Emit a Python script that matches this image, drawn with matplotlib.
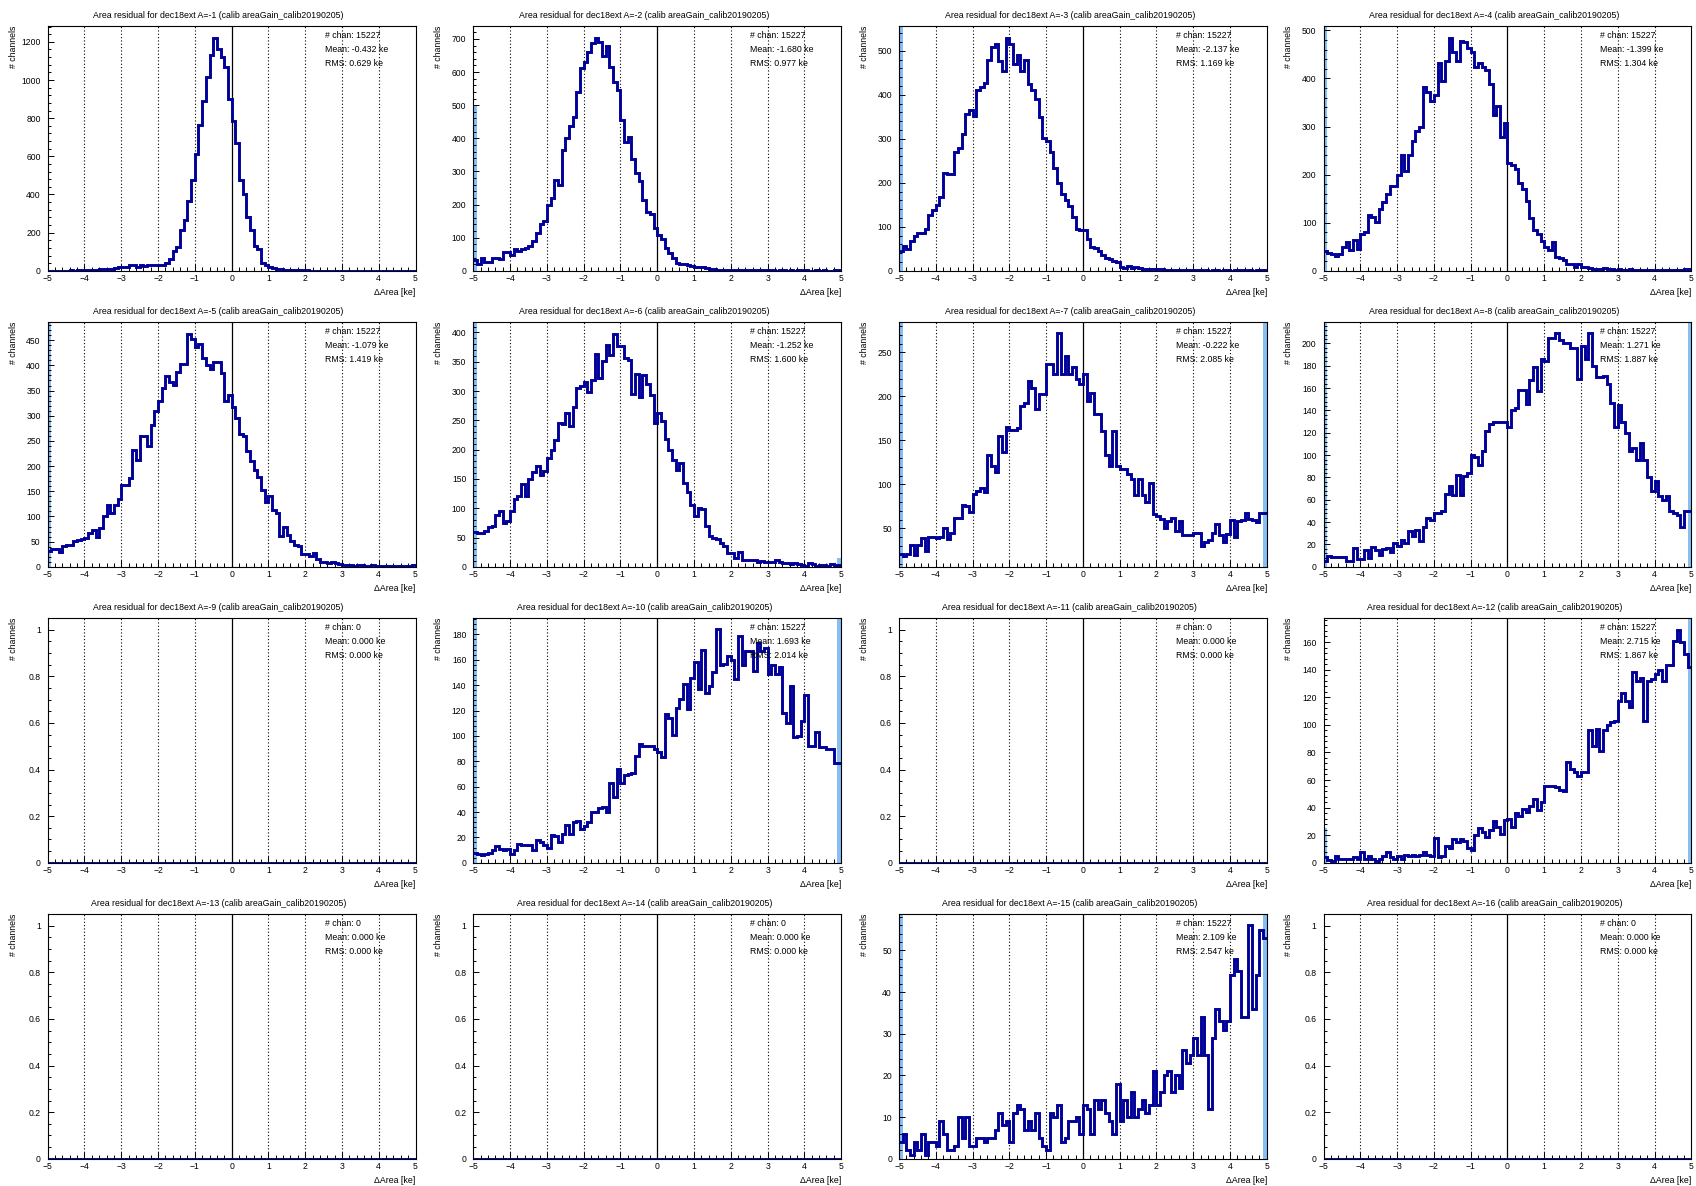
import matplotlib
matplotlib.use("Agg")
import numpy as np
import matplotlib.pyplot as plt
from matplotlib.ticker import MultipleLocator, AutoMinorLocator, FuncFormatter

plt.rcParams['font.family'] = ['Liberation Sans', 'DejaVu Sans']

# --- binning: 100 bins of 0.1 ke between -5 and 5 ---
X_LO, X_HI, NBINS = -5.0, 5.0, 100

# bin contents, 10 bins (= 1 ke) per row
counts_a1 = [
    1, 0, 1, 0, 1, 1, 2, 1, 2, 2,
    2, 3, 4, 5, 8, 10, 12, 8, 15, 22,
    20, 18, 33, 33, 22, 28, 25, 30, 32, 30,
    28, 30, 42, 62, 105, 125, 215, 268, 365, 478,
    610, 765, 890, 1015, 1130, 1222, 1160, 1118, 1068, 900,
    785, 668, 478, 405, 280, 212, 130, 112, 40, 28,
    20, 14, 10, 7, 6, 4, 3, 3, 2, 2,
    2, 1, 1, 1, 1, 1, 0, 1, 0, 1,
    0, 1, 0, 0, 1, 0, 0, 0, 0, 1,
    0, 0, 1, 0, 0, 0, 0, 0, 0, 1,
]
counts_a2 = [
    32, 22, 40, 28, 28, 38, 38, 35, 57, 57,
    47, 65, 60, 65, 68, 75, 90, 115, 140, 150,
    200, 220, 275, 258, 365, 400, 437, 465, 540, 612,
    630, 662, 687, 704, 690, 650, 680, 615, 570, 545,
    455, 388, 405, 338, 295, 270, 215, 178, 172, 130,
    108, 95, 70, 55, 38, 25, 22, 20, 18, 13,
    12, 12, 10, 8, 5, 4, 3, 3, 2, 2,
    2, 2, 1, 2, 1, 1, 1, 1, 1, 1,
    1, 1, 0, 1, 1, 0, 1, 0, 1, 0,
    1, 0, 0, 1, 0, 1, 0, 0, 1, 1,
]
counts_a3 = [
    45, 56, 50, 68, 80, 86, 86, 94, 127, 139,
    149, 168, 223, 220, 221, 270, 280, 312, 356, 365,
    351, 412, 417, 427, 480, 509, 515, 477, 455, 530,
    515, 470, 490, 455, 480, 425, 410, 390, 350, 302,
    295, 270, 233, 200, 175, 162, 147, 123, 95, 92,
    92, 72, 54, 52, 46, 35, 30, 26, 22, 20,
    8, 6, 10, 7, 8, 6, 5, 4, 4, 3,
    3, 3, 2, 2, 2, 2, 1, 1, 2, 1,
    1, 1, 1, 1, 0, 1, 1, 0, 1, 1,
    0, 1, 1, 1, 0, 1, 0, 1, 1, 1,
]
counts_a4 = [
    41, 37, 34, 30, 34, 50, 59, 43, 65, 46,
    76, 81, 117, 112, 101, 128, 143, 159, 177, 177,
    200, 241, 208, 241, 270, 290, 300, 382, 372, 354,
    366, 432, 394, 436, 485, 456, 437, 479, 476, 463,
    455, 423, 432, 423, 418, 388, 324, 343, 279, 308,
    225, 221, 212, 182, 170, 145, 110, 84, 77, 62,
    50, 44, 59, 29, 26, 23, 15, 15, 8, 15,
    8, 7, 5, 4, 4, 3, 6, 3, 3, 2,
    3, 2, 2, 3, 1, 2, 1, 2, 1, 1,
    2, 1, 1, 1, 2, 1, 1, 2, 3, 4,
]
counts_a5 = [
    31, 36, 36, 29, 41, 44, 44, 52, 54, 56,
    57, 67, 74, 59, 78, 100, 123, 107, 123, 135,
    162, 162, 176, 232, 212, 259, 259, 240, 282, 309,
    330, 356, 379, 367, 361, 387, 402, 402, 463, 453,
    437, 442, 414, 400, 392, 406, 406, 384, 330, 342,
    317, 295, 264, 260, 229, 210, 193, 179, 153, 128,
    141, 113, 107, 62, 80, 64, 51, 44, 41, 26,
    26, 22, 28, 15, 9, 9, 8, 9, 7, 5,
    3, 4, 3, 2, 4, 3, 2, 2, 3, 2,
    2, 2, 1, 2, 1, 2, 2, 1, 2, 3,
]
counts_a6 = [
    59, 58, 57, 61, 68, 70, 88, 96, 75, 79,
    95, 116, 121, 141, 121, 149, 161, 172, 157, 163,
    186, 199, 217, 245, 244, 262, 241, 273, 305, 309,
    316, 299, 319, 363, 322, 352, 378, 361, 398, 376,
    376, 357, 353, 295, 329, 289, 327, 312, 293, 246,
    263, 248, 218, 200, 183, 166, 178, 143, 127, 106,
    86, 100, 98, 69, 53, 49, 48, 41, 36, 24,
    23, 15, 25, 12, 11, 11, 12, 8, 10, 8,
    9, 8, 11, 8, 7, 6, 4, 7, 4, 3,
    2, 6, 4, 2, 3, 3, 2, 4, 2, 3,
]
counts_a7 = [
    21, 19, 21, 31, 20, 31, 39, 24, 40, 40,
    39, 40, 51, 38, 45, 62, 62, 77, 75, 69,
    89, 93, 96, 91, 133, 121, 114, 155, 137, 165,
    162, 162, 164, 189, 193, 218, 210, 186, 203, 203,
    237, 237, 225, 272, 225, 246, 225, 233, 220, 214,
    226, 195, 204, 180, 180, 161, 134, 121, 161, 121,
    117, 117, 112, 106, 88, 106, 88, 80, 102, 66,
    64, 61, 51, 58, 62, 47, 58, 43, 43, 43,
    45, 45, 30, 34, 37, 45, 55, 43, 34, 44,
    59, 40, 58, 60, 68, 61, 59, 57, 67, 67,
]
counts_a8 = [
    5, 10, 9, 9, 9, 9, 5, 5, 17, 7,
    7, 15, 8, 18, 15, 11, 16, 17, 13, 21,
    19, 24, 21, 32, 28, 33, 23, 36, 44, 42,
    48, 48, 50, 65, 72, 64, 82, 64, 81, 84,
    100, 98, 91, 104, 122, 128, 130, 130, 130, 130,
    125, 140, 142, 158, 158, 146, 167, 179, 157, 186,
    184, 205, 205, 209, 203, 200, 200, 196, 196, 168,
    198, 186, 209, 180, 170, 170, 171, 164, 147, 125,
    145, 130, 120, 104, 106, 96, 111, 96, 80, 68,
    77, 63, 60, 63, 50, 48, 46, 36, 50, 50,
]
counts_a9 = [0] * NBINS
counts_a10 = [
    8, 7, 6, 7, 8, 10, 13, 11, 10, 11,
    7, 10, 15, 14, 14, 14, 10, 18, 16, 14,
    12, 22, 21, 16, 23, 30, 23, 32, 33, 27,
    29, 32, 40, 40, 43, 44, 40, 63, 52, 74,
    63, 69, 70, 71, 84, 94, 92, 92, 92, 90,
    87, 83, 117, 114, 101, 122, 129, 141, 121, 146,
    158, 137, 168, 134, 139, 150, 184, 156, 157, 163,
    160, 145, 179, 156, 167, 167, 151, 173, 167, 169,
    149, 156, 149, 154, 118, 110, 139, 99, 100, 112,
    132, 92, 92, 103, 91, 91, 90, 90, 79, 79,
]
counts_a11 = [0] * NBINS
counts_a12 = [
    4, 2, 1, 5, 3, 3, 3, 3, 4, 3,
    8, 3, 5, 3, 1, 3, 5, 8, 4, 3,
    5, 3, 6, 5, 6, 5, 6, 8, 6, 5,
    18, 4, 5, 12, 11, 17, 15, 17, 16, 11,
    9, 20, 25, 22, 19, 24, 30, 26, 21, 31,
    32, 26, 36, 34, 39, 37, 41, 46, 38, 44,
    56, 56, 56, 55, 53, 52, 73, 68, 66, 63,
    66, 66, 96, 85, 97, 81, 96, 100, 102, 103,
    117, 123, 117, 113, 138, 132, 134, 103, 132, 133,
    137, 140, 132, 143, 143, 161, 169, 160, 151, 142,
]
counts_a13 = [0] * NBINS
counts_a14 = [0] * NBINS
counts_a15 = [
    4, 6, 2, 1, 4, 2, 6, 1, 4, 4,
    3, 9, 6, 2, 2, 3, 10, 5, 10, 3,
    3, 5, 5, 4, 5, 5, 7, 11, 8, 9,
    4, 11, 13, 12, 7, 9, 7, 11, 5, 3,
    2, 11, 10, 13, 4, 5, 9, 9, 10, 6,
    13, 12, 6, 14, 12, 14, 11, 9, 6, 18,
    9, 14, 10, 16, 10, 12, 14, 11, 13, 21,
    13, 16, 20, 21, 16, 20, 17, 26, 23, 25,
    29, 25, 34, 25, 12, 29, 36, 33, 31, 33,
    44, 48, 45, 34, 34, 56, 36, 44, 55, 53,
]
counts_a16 = [0] * NBINS

# channels outside [-5, 5] (drawn as light-blue edge bars)
underflow = [0, 500, 900, 800, 700, 600, 500, 400, 0, 300, 0, 25, 0, 0, 200, 0]
overflow = [0, 0, 0, 5, 6, 15, 1500, 2000, 0, 4000, 0, 6000, 0, 0, 9000, 0]

# stats box values
n_chan = [15227, 15227, 15227, 15227, 15227, 15227, 15227, 15227,
          0, 15227, 0, 15227, 0, 0, 15227, 0]
mean_ke = [-0.432, -1.680, -2.137, -1.399, -1.079, -1.252, -0.222, 1.271,
           0.000, 1.693, 0.000, 2.715, 0.000, 0.000, 2.109, 0.000]
rms_ke = [0.629, 0.977, 1.169, 1.304, 1.419, 1.600, 2.085, 1.887,
          0.000, 2.014, 0.000, 1.867, 0.000, 0.000, 2.547, 0.000]
ystep = [200, 100, 100, 100, 50, 50, 50, 20, 0.2, 20, 0.2, 20, 0.2, 0.2, 10, 0.2]

all_counts = [counts_a1, counts_a2, counts_a3, counts_a4, counts_a5, counts_a6,
              counts_a7, counts_a8, counts_a9, counts_a10, counts_a11, counts_a12,
              counts_a13, counts_a14, counts_a15, counts_a16]

# --- layout in pixels (figure is 1696 x 1186 at dpi 100) ---
W, H = 1696, 1186
AX_LEFT = [47.7, 473.3, 899.0, 1323.5]
AX_TOP = [26.0, 322.0, 618.0, 914.0]
AX_W, AX_H = 367.8, 244.8

LINE_COL = "#000099"
EDGE_COL = "#87bff5"
FS = 6.3


def fmt_num(v, pos=None):
    s = f"{v:g}"
    return s.replace("-", "\u2212")


fig = plt.figure(figsize=(W / 100, H / 100), dpi=100)
edges = np.linspace(X_LO, X_HI, NBINS + 1)

for i, counts in enumerate(all_counts):
    r, c = divmod(i, 4)
    ax = fig.add_axes([AX_LEFT[c] / W, 1 - (AX_TOP[r] + AX_H) / H, AX_W / W, AX_H / H])

    counts = np.asarray(counts, dtype=float)
    cmax, cmin = counts.max(), counts.min()
    if cmax <= 0:
        lo, hi = 0.0, 1.05
    else:
        lo = cmin - 0.05 * (cmax - cmin)
        hi = cmax + 0.05 * (cmax - cmin)
        lo = max(lo, 0.0)

    # under/overflow bars at the edges
    ax.bar([X_LO], [underflow[i]], width=0.1, align="edge", color=EDGE_COL, lw=0, zorder=1)
    ax.bar([X_HI - 0.1], [overflow[i]], width=0.1, align="edge", color=EDGE_COL, lw=0, zorder=1)

    for v in [-4, -3, -2, -1, 1, 2, 3, 4]:
        ax.axvline(v, color="black", ls=(0, (1, 2)), lw=0.8, zorder=2)
    ax.axvline(0, color="black", lw=0.9, zorder=2)

    ax.stairs(counts, edges, color=LINE_COL, lw=2.1, baseline=None, zorder=3)

    ax.set_xlim(X_LO, X_HI)
    ax.set_ylim(lo, hi)

    ax.xaxis.set_major_locator(MultipleLocator(1))
    ax.xaxis.set_minor_locator(MultipleLocator(0.2))
    ax.yaxis.set_major_locator(MultipleLocator(ystep[i]))
    ax.yaxis.set_minor_locator(AutoMinorLocator(4 if ystep[i] < 1 else 5))
    ax.xaxis.set_major_formatter(FuncFormatter(fmt_num))
    ax.yaxis.set_major_formatter(FuncFormatter(fmt_num))

    ax.tick_params(axis="both", which="both", direction="in", top=False, right=False,
                   width=0.7, labelsize=6.2)
    ax.tick_params(axis="x", which="major", length=5.0, pad=2.5)
    ax.tick_params(axis="x", which="minor", length=2.8)
    ax.tick_params(axis="y", which="major", length=4.3, pad=5.0)
    ax.tick_params(axis="y", which="minor", length=2.2)
    for sp in ax.spines.values():
        sp.set_linewidth(0.8)

    # title above each pad
    fig.text((AX_LEFT[c] + AX_W / 2 - 13) / W, 1 - (AX_TOP[r] - 11) / H,
             f"Area residual for dec18ext A=-{i + 1} (calib areaGain_calib20190205)",
             ha="center", va="center", fontsize=FS)

    ax.annotate("\u0394Area [ke]", xy=(1, 0), xycoords="axes fraction",
                xytext=(0, -22 * 0.72), textcoords="offset points",
                ha="right", va="center", fontsize=FS)
    ax.annotate("# channels", xy=(0, 1), xycoords="axes fraction",
                xytext=(-(AX_LEFT[0] - 13) * 0.72, 0), textcoords="offset points",
                rotation=90, ha="center", va="top", fontsize=FS)

    stats = [f"# chan: {n_chan[i]}",
             f"Mean: {mean_ke[i]:.3f} ke",
             f"RMS: {rms_ke[i]:.3f} ke"]
    for j, s in enumerate(stats):
        ax.text(0.753, 1 - (10 + 13.7 * j) / AX_H, s, transform=ax.transAxes,
                ha="left", va="center", fontsize=FS, zorder=5)

fig.savefig("out.png", dpi=100)
